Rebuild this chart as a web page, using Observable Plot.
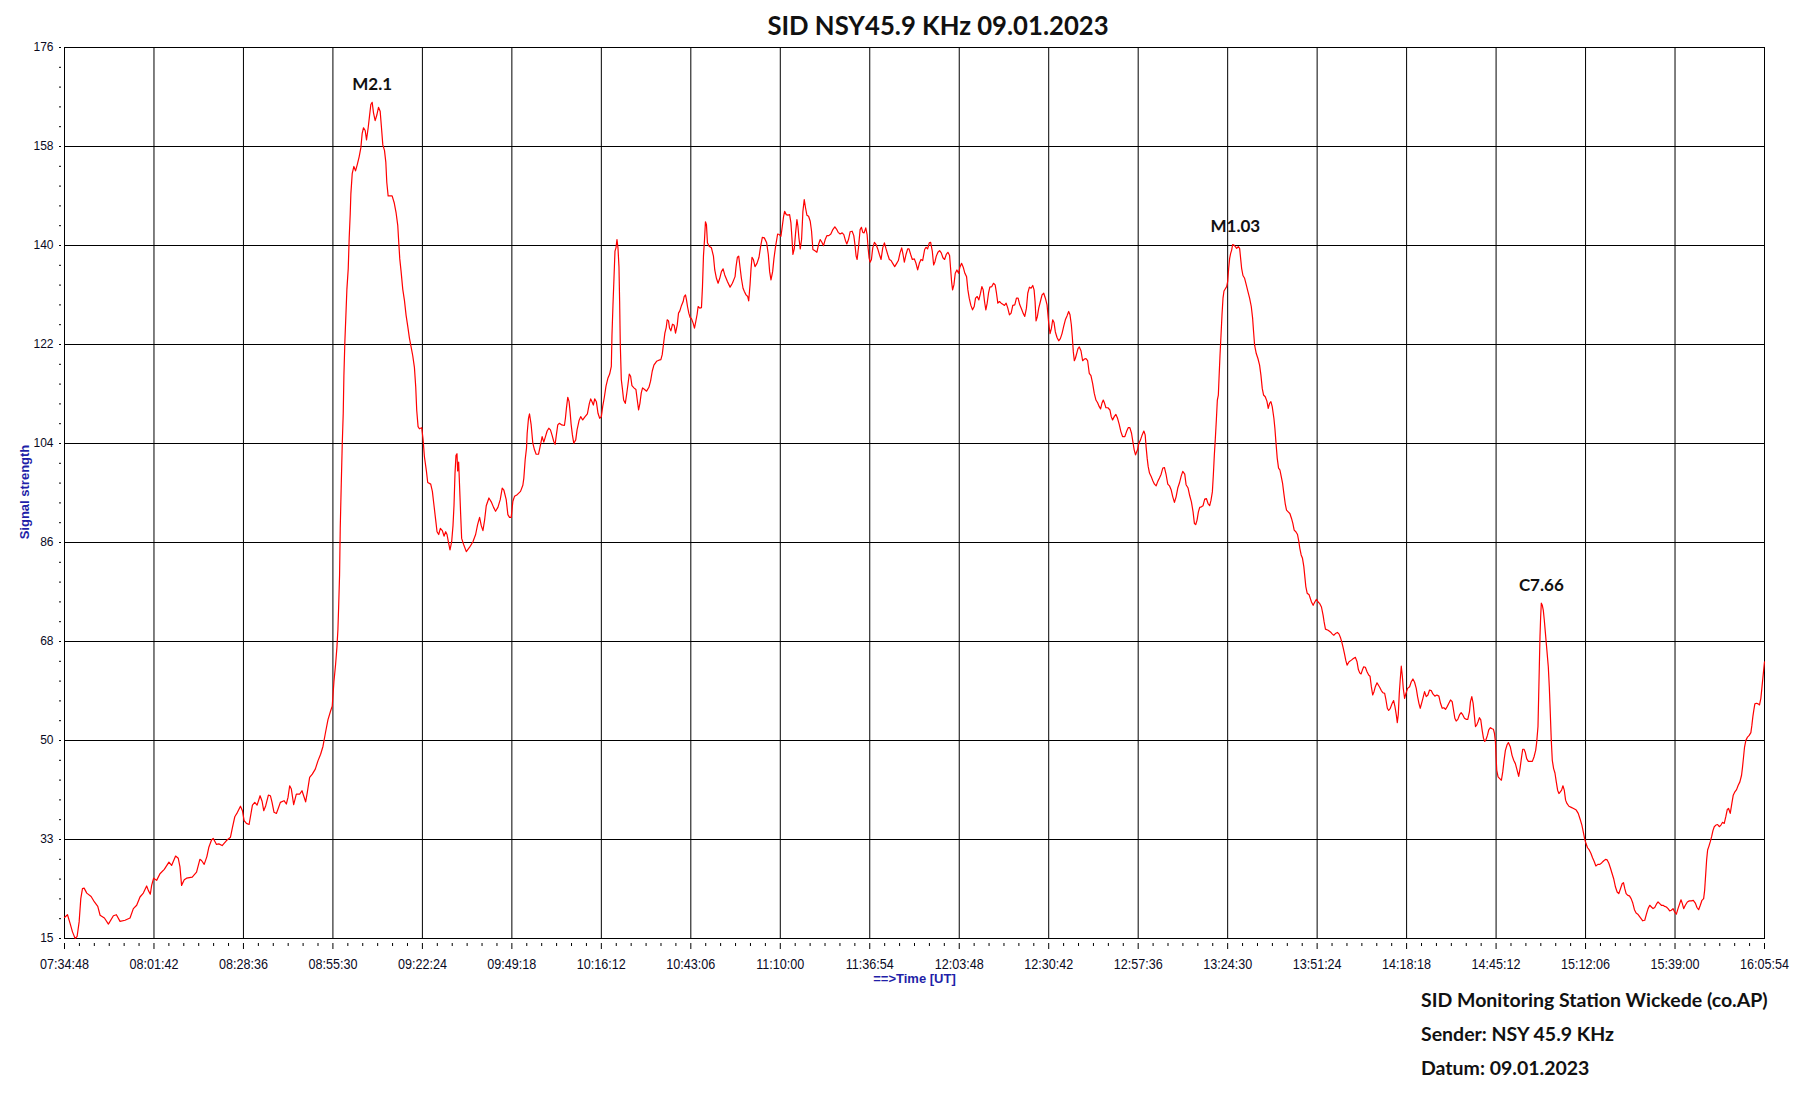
<!DOCTYPE html>
<html>
<head>
<meta charset="utf-8">
<script src="https://cdn.jsdelivr.net/npm/d3@7"></script>
<script src="https://cdn.jsdelivr.net/npm/@observablehq/plot@0.6"></script>
<style>
html, body { margin: 0; padding: 0; background: #ffffff; }
#chart { position: relative; width: 1795px; height: 1100px; overflow: hidden; background: #ffffff; }
</style>
</head>
<body>
<div id="chart"></div>
<script>
// ---------- texts ----------
const titleText = "SID NSY45.9 KHz 09.01.2023";
const yAxisTitle = "Signal strength";
const xAxisTitle = "==>Time [UT]";
const footerLines = [
  "SID Monitoring Station Wickede (co.AP)",
  "Sender: NSY 45.9 KHz",
  "Datum: 09.01.2023"
];

// ---------- axes ----------
const xTickLabels = ["07:34:48","08:01:42","08:28:36","08:55:30","09:22:24","09:49:18","10:16:12",
  "10:43:06","11:10:00","11:36:54","12:03:48","12:30:42","12:57:36","13:24:30","13:51:24",
  "14:18:18","14:45:12","15:12:06","15:39:00","16:05:54"];
const yTickLabels = ["15","33","50","68","86","104","122","140","158","176"];
const yMin = 15, yMax = 176;

// ---------- flare annotations (label, peak time in minutes UT, peak value) ----------
const flareLabels = ["M2.1", "M1.03", "C7.66"];
const flareTimes = [547.3, 806.8, 898.8];
const flareValues = [166.1, 140.4, 75.6];

// ---------- signal readings: [time in minutes of day UT, signal strength] ----------
const signalReadings = [
[454.8,18.8],[455.7,19.3],[456.5,17.7],[457.2,16.2],[458.0,15.0],[458.6,15.4],[459.2,18.0],[459.7,22.2],
[460.2,24.0],[460.7,24.1],[461.5,23.2],[462.8,22.6],[463.8,21.6],[464.8,20.8],[465.5,19.2],[466.8,18.7],
[468.0,17.6],[469.5,19.1],[470.4,19.3],[471.5,18.1],[473.0,18.3],[474.5,18.7],[475.5,20.4],[476.5,21.0],
[477.5,22.5],[478.5,23.2],[479.5,24.5],[480.0,23.7],[480.6,23.0],[481.0,24.6],[481.6,25.9],[482.5,25.5],
[483.5,26.7],[484.8,27.5],[486.2,28.8],[487.0,28.2],[488.2,29.9],[489.0,29.5],[489.5,28.0],[490.0,24.6],
[490.8,25.6],[491.5,25.9],[493.2,26.1],[494.5,27.0],[495.5,29.3],[496.0,29.1],[496.8,28.4],[497.6,29.8],
[498.2,31.5],[499.0,32.8],[499.5,33.1],[500.5,32.0],[501.2,32.1],[502.2,31.8],[503.5,32.7],[504.7,33.3],
[505.3,35.1],[506.0,37.0],[506.8,37.8],[507.7,38.9],[508.3,38.1],[508.8,36.3],[509.5,35.8],[510.3,35.6],
[511.3,39.1],[512.0,39.6],[512.7,39.1],[513.6,40.8],[514.2,39.8],[514.7,38.1],[515.3,39.0],[516.1,40.9],
[516.7,40.8],[517.2,39.6],[517.8,37.8],[518.5,37.6],[519.0,38.4],[519.7,39.6],[520.8,39.9],[521.5,39.3],
[522.0,40.5],[522.5,42.6],[523.0,42.0],[523.7,39.2],[524.5,41.1],[525.5,41.1],[526.2,41.7],[526.7,40.8],
[527.3,39.7],[527.8,41.4],[528.5,44.1],[529.3,44.7],[530.2,45.6],[531.0,47.1],[531.8,48.3],[532.5,49.7],
[533.2,52.0],[534.0,54.5],[534.8,56.1],[535.3,57.0],[535.8,61.4],[536.3,64.5],[536.7,67.6],[537.0,70.8],
[537.2,74.5],[537.5,80.7],[537.7,89.1],[538.0,96.9],[538.3,104.2],[538.6,109.9],[538.8,116.7],[539.1,123.0],
[539.4,127.6],[539.7,132.3],[540.1,136.0],[540.4,141.7],[540.7,145.9],[540.9,149.6],[541.3,153.2],[541.8,154.5],
[542.3,153.7],[542.8,154.8],[543.4,156.3],[543.9,157.9],[544.3,160.5],[544.7,161.5],[545.2,161.0],[545.6,159.3],
[546.1,161.5],[546.5,163.6],[546.9,165.7],[547.3,166.1],[547.7,164.2],[548.2,162.8],[548.7,163.8],[549.2,165.2],
[549.7,164.5],[550.1,161.5],[550.5,158.4],[551.0,157.4],[551.4,155.3],[551.7,151.6],[552.1,149.2],[552.7,149.2],
[553.3,149.2],[553.9,148.0],[554.5,146.1],[555.0,143.8],[555.3,140.7],[555.6,137.8],[556.0,135.5],[556.5,132.3],
[557.0,130.3],[557.5,127.6],[558.0,125.6],[558.5,123.5],[559.0,121.9],[559.5,120.3],[560.0,118.2],[560.4,114.6],
[560.7,110.4],[561.1,107.5],[561.5,107.1],[562.2,107.3],[562.6,105.2],[563.0,102.1],[563.6,99.5],[564.0,97.4],
[564.9,97.1],[565.4,95.8],[565.8,93.7],[566.4,90.6],[566.8,88.5],[567.3,88.0],[567.8,89.1],[568.4,88.7],
[568.9,87.7],[569.4,88.5],[569.8,88.0],[570.3,86.4],[570.7,85.2],[571.2,86.7],[571.6,89.6],[571.9,93.2],
[572.2,99.0],[572.5,102.3],[572.8,102.6],[573.0,99.5],[573.3,101.1],[573.6,96.4],[573.9,91.7],[574.2,87.3],
[574.8,86.2],[575.6,84.9],[576.6,85.7],[577.6,86.7],[578.4,88.0],[579.0,89.8],[579.6,91.1],[580.1,89.6],
[580.6,88.7],[581.1,90.6],[581.6,93.2],[582.4,94.6],[583.1,93.9],[583.8,92.9],[584.4,92.2],[585.1,92.9],
[585.8,94.3],[586.4,96.4],[586.9,96.0],[587.6,94.3],[588.1,91.6],[588.6,91.1],[589.1,91.1],[589.6,94.0],
[590.1,94.9],[590.9,95.2],[591.9,95.8],[592.6,96.9],[592.9,98.2],[593.3,101.5],[593.7,103.6],[593.9,106.3],
[594.3,109.0],[594.6,109.8],[595.1,107.8],[595.6,104.5],[596.1,103.3],[596.6,102.5],[597.3,102.5],[597.9,104.2],
[598.4,105.7],[598.9,104.7],[599.4,105.7],[599.9,106.7],[600.4,107.2],[600.9,106.9],[601.4,105.9],[601.9,104.8],
[602.3,104.3],[602.7,106.1],[603.1,107.8],[603.6,108.1],[604.3,107.8],[605.1,107.7],[605.4,109.0],[605.7,110.8],
[606.1,112.8],[606.5,112.0],[606.8,110.2],[607.1,108.0],[607.5,106.0],[607.9,104.5],[608.5,105.1],[608.9,106.9],
[609.5,108.6],[610.0,109.3],[610.6,108.7],[611.2,109.2],[612.0,109.8],[612.6,111.7],[613.0,112.5],[613.4,112.0],
[613.8,111.4],[614.2,112.5],[614.7,112.0],[615.2,109.9],[615.7,109.0],[616.2,109.3],[616.6,111.1],[617.1,112.8],
[617.6,114.8],[618.2,116.3],[618.7,117.0],[619.2,118.4],[619.4,124.1],[619.7,129.5],[620.0,134.3],[620.3,139.2],
[620.6,139.8],[620.9,141.3],[621.2,139.8],[621.5,136.4],[621.7,130.1],[621.9,122.3],[622.2,116.0],[622.5,114.5],
[622.9,112.3],[623.4,111.7],[623.8,113.3],[624.2,115.1],[624.6,117.0],[625.0,116.6],[625.4,114.9],[626.0,114.5],
[626.6,114.2],[627.0,112.3],[627.4,110.5],[627.8,111.7],[628.2,113.6],[628.6,114.5],[629.2,114.2],[629.8,113.9],
[630.5,114.6],[631.0,115.7],[631.5,117.5],[632.0,118.6],[632.8,119.3],[633.5,119.5],[634.1,119.6],[634.5,120.5],
[634.8,122.0],[635.3,124.4],[635.7,125.4],[636.0,126.8],[636.4,126.6],[636.7,125.3],[637.1,124.8],[637.6,126.0],
[638.1,125.8],[638.5,124.4],[639.0,125.8],[639.4,128.0],[639.8,128.4],[640.3,129.4],[640.8,130.1],[641.1,131.0],
[641.5,131.3],[641.8,130.4],[642.1,129.2],[642.5,128.0],[642.9,127.2],[643.3,127.0],[643.8,126.2],[644.2,125.3],
[644.6,126.5],[645.0,127.8],[645.3,129.2],[645.8,128.9],[646.3,129.0],[646.6,132.7],[646.9,138.3],[647.2,141.1],
[647.5,144.5],[647.8,144.0],[648.1,140.7],[648.6,140.1],[649.3,139.8],[649.9,138.3],[650.3,135.8],[650.8,134.3],
[651.3,133.4],[651.8,134.3],[652.3,135.5],[652.8,136.0],[653.3,134.9],[654.1,133.7],[654.9,132.7],[655.6,133.4],
[656.4,134.6],[656.7,136.4],[657.1,138.1],[657.5,138.3],[657.9,136.3],[658.3,134.3],[658.8,132.5],[659.2,131.9],
[659.7,131.3],[660.2,131.0],[660.5,130.2],[660.9,133.1],[661.2,136.0],[661.5,138.1],[661.9,137.7],[662.4,136.4],
[663.0,137.0],[663.6,138.1],[664.1,140.1],[664.6,141.7],[665.2,141.6],[665.9,140.7],[666.4,138.6],[666.8,135.5],
[667.2,134.0],[667.7,135.5],[668.1,137.9],[668.6,140.1],[669.2,142.3],[669.7,142.2],[670.2,141.9],[670.6,143.7],
[671.0,145.5],[671.3,146.4],[671.8,145.8],[672.3,145.7],[672.8,145.8],[673.2,144.3],[673.5,141.6],[673.8,138.6],
[674.2,139.6],[674.6,142.5],[675.0,144.9],[675.3,143.7],[675.6,141.6],[676.0,139.6],[676.4,141.3],[676.8,146.4],
[677.2,148.5],[677.6,147.0],[678.0,145.7],[678.5,145.5],[679.0,144.6],[679.4,142.8],[679.8,139.5],[680.3,139.3],
[681.0,139.0],[681.5,140.4],[682.0,141.3],[682.5,140.8],[683.0,140.2],[683.5,141.3],[684.0,142.0],[684.6,142.0],
[685.2,142.3],[685.8,143.1],[686.4,143.6],[686.9,143.2],[687.4,142.6],[688.0,142.3],[688.6,142.5],[689.1,142.2],
[689.6,141.1],[690.0,140.5],[690.5,141.3],[691.0,142.7],[691.6,142.8],[692.1,142.0],[692.5,140.1],[692.8,138.3],
[693.1,137.7],[693.5,139.8],[694.0,143.1],[694.4,143.5],[694.8,142.6],[695.2,142.5],[695.7,143.4],[696.1,142.2],
[696.4,139.8],[696.7,138.0],[697.0,137.2],[697.4,137.7],[697.8,139.8],[698.3,140.8],[698.8,140.4],[699.3,139.6],
[699.8,138.6],[700.3,137.7],[700.8,139.8],[701.3,140.7],[701.8,139.6],[702.3,138.6],[702.8,137.7],[703.3,137.5],
[703.8,137.0],[704.4,136.4],[705.0,137.0],[705.5,137.5],[706.0,138.9],[706.5,139.8],[706.9,138.6],[707.3,137.2],
[707.8,138.6],[708.3,139.6],[708.7,139.6],[709.2,138.6],[709.7,137.7],[710.3,137.8],[710.8,137.0],[711.3,135.8],
[711.8,137.0],[712.3,137.7],[712.8,137.5],[713.4,139.5],[713.8,139.9],[714.3,139.6],[714.8,140.7],[715.2,140.8],
[715.7,139.2],[716.1,136.7],[716.5,137.3],[716.9,138.3],[717.4,139.0],[717.9,139.3],[718.4,138.9],[718.9,138.0],
[719.4,137.7],[719.9,138.6],[720.4,139.0],[720.9,138.4],[721.2,136.1],[721.5,133.7],[721.8,132.2],[722.2,133.1],
[722.6,135.2],[723.1,135.8],[723.6,135.2],[724.0,136.3],[724.5,137.0],[725.0,136.3],[725.5,135.2],[726.0,134.6],
[726.4,132.2],[726.8,130.7],[727.3,129.4],[727.8,128.6],[728.3,129.2],[728.7,130.7],[729.2,131.0],[729.7,130.4],
[730.2,131.6],[730.6,132.8],[731.0,132.2],[731.4,130.1],[731.8,128.6],[732.2,129.8],[732.6,131.6],[733.0,132.7],
[733.6,132.8],[734.1,133.4],[734.6,133.1],[735.0,131.6],[735.4,129.8],[735.9,130.1],[736.4,129.8],[736.9,129.6],
[737.4,129.4],[737.9,129.8],[738.4,128.9],[738.9,127.7],[739.4,128.0],[739.9,129.4],[740.5,129.5],[741.0,130.7],
[741.5,130.7],[742.0,129.5],[742.5,128.8],[743.0,128.0],[743.5,127.4],[744.0,128.9],[744.4,131.6],[744.9,132.7],
[745.4,132.5],[745.9,133.0],[746.3,132.2],[746.6,130.1],[746.9,126.6],[747.3,127.4],[747.7,128.9],[748.2,130.1],
[748.7,131.3],[749.2,131.6],[749.7,130.7],[750.2,129.5],[750.7,126.2],[751.1,124.3],[751.5,125.2],[751.9,126.8],
[752.3,126.3],[752.7,124.6],[753.2,123.6],[753.7,123.0],[754.2,123.4],[754.7,124.3],[755.2,125.6],[755.7,126.8],
[756.2,127.5],[756.7,128.3],[757.1,127.7],[757.5,125.9],[757.8,123.7],[758.1,121.0],[758.4,119.4],[758.7,119.8],
[759.1,120.7],[759.5,121.6],[759.9,121.9],[760.4,121.2],[760.9,119.4],[761.4,119.7],[761.9,119.8],[762.4,119.4],
[762.9,117.1],[763.4,116.7],[763.9,115.3],[764.4,113.5],[764.9,112.3],[765.4,111.8],[765.9,111.1],[766.3,110.7],
[766.7,111.7],[767.1,112.3],[767.5,111.7],[767.9,110.9],[768.5,110.9],[769.1,110.5],[769.5,109.3],[769.9,108.7],
[770.4,109.3],[770.9,109.7],[771.4,109.0],[771.9,107.9],[772.4,106.6],[772.9,105.7],[773.6,105.7],[774.1,106.6],
[774.6,107.3],[775.1,107.3],[775.6,106.3],[776.0,104.8],[776.4,103.3],[776.8,102.4],[777.4,103.3],[777.8,104.5],
[778.3,105.1],[778.8,106.0],[779.3,106.7],[779.7,106.0],[780.0,103.7],[780.3,101.8],[780.6,100.3],[781.0,99.1],
[781.5,98.5],[782.0,97.7],[782.5,97.1],[783.0,96.8],[783.5,97.6],[784.0,98.2],[784.5,98.9],[785.0,100.0],
[785.5,100.1],[786.0,98.8],[786.5,97.1],[787.0,96.8],[787.5,96.1],[788.0,94.8],[788.5,93.8],[789.0,94.8],
[789.5,96.4],[790.0,97.3],[790.5,98.5],[791.0,99.4],[791.6,98.9],[792.0,97.0],[792.6,96.4],[793.1,95.0],
[793.6,93.9],[794.1,92.1],[794.5,90.0],[794.9,89.8],[795.3,90.6],[795.7,92.1],[796.1,92.9],[796.6,93.0],
[797.1,93.2],[797.6,94.4],[798.1,94.5],[798.6,93.6],[799.1,93.2],[799.5,94.2],[799.9,95.7],[800.2,98.8],
[800.5,102.4],[800.8,105.4],[801.1,108.7],[801.4,112.3],[801.7,113.2],[801.9,116.2],[802.2,120.4],[802.5,124.0],
[802.8,127.7],[803.1,130.7],[803.4,132.0],[803.8,132.4],[804.2,132.8],[804.5,133.7],[804.8,136.1],[805.1,137.9],
[805.4,138.8],[805.7,139.4],[806.0,140.4],[806.4,140.3],[806.8,140.0],[807.2,139.7],[807.7,140.0],[808.1,139.7],
[808.4,137.9],[808.7,136.1],[809.1,134.8],[809.6,134.3],[810.1,133.1],[810.6,131.9],[811.1,130.7],[811.6,129.2],
[812.0,127.1],[812.3,124.6],[812.6,122.2],[813.1,120.7],[813.6,119.8],[814.1,118.6],[814.5,116.8],[814.9,114.4],
[815.3,113.2],[815.8,112.9],[816.3,112.1],[816.7,110.8],[817.1,111.7],[817.5,112.0],[817.9,111.1],[818.4,109.0],
[818.7,107.2],[819.0,104.8],[819.4,101.8],[819.8,100.0],[820.2,99.7],[820.6,98.5],[821.0,97.3],[821.4,95.4],
[821.8,93.6],[822.2,92.4],[822.7,92.1],[823.2,91.8],[823.7,90.9],[824.1,90.0],[824.5,88.8],[825.0,88.5],
[825.5,88.0],[825.9,86.7],[826.2,85.5],[826.6,84.3],[827.0,83.7],[827.4,82.2],[827.7,80.4],[828.0,78.6],
[828.4,77.4],[829.0,77.1],[829.7,75.8],[830.2,75.2],[830.7,75.8],[831.2,76.3],[831.7,75.8],[832.2,75.5],
[832.7,74.9],[833.2,73.4],[833.5,72.2],[833.9,70.9],[834.7,70.7],[835.4,70.4],[836.0,70.0],[836.4,69.8],
[836.9,70.1],[837.5,70.3],[838.0,70.0],[838.4,69.4],[838.8,68.6],[839.2,67.6],[839.6,66.5],[840.0,65.3],
[840.4,64.4],[841.0,65.0],[841.7,65.3],[842.3,65.6],[842.9,65.8],[843.4,65.0],[843.8,63.6],[844.2,63.0],
[844.6,62.8],[845.0,63.5],[845.4,64.1],[845.9,64.0],[846.4,63.2],[846.9,62.6],[847.3,62.4],[847.7,60.5],
[848.1,59.0],[848.5,59.6],[848.9,60.5],[849.4,61.2],[849.8,60.8],[850.2,60.4],[850.7,59.8],[851.2,59.4],
[851.7,59.3],[852.1,58.1],[852.5,56.6],[852.9,56.2],[853.4,56.6],[853.9,57.4],[854.4,58.0],[854.8,56.9],
[855.2,55.4],[855.5,54.0],[855.8,55.5],[856.1,59.3],[856.4,61.9],[856.7,64.2],[857.0,62.5],[857.3,60.2],
[857.7,58.4],[858.1,59.3],[858.6,60.2],[859.2,60.5],[859.7,61.4],[860.2,61.9],[860.7,61.3],[861.2,60.2],
[861.6,58.7],[862.0,57.5],[862.4,56.6],[862.8,57.5],[863.2,58.4],[863.7,59.6],[864.2,58.7],[864.7,59.0],
[865.2,59.9],[865.7,59.8],[866.2,59.2],[866.8,58.8],[867.4,59.0],[868.0,58.8],[868.5,57.5],[869.0,56.6],
[869.5,56.7],[870.0,56.4],[870.5,56.9],[871.0,57.5],[871.5,58.1],[872.0,57.8],[872.4,56.3],[872.8,54.8],
[873.2,54.3],[873.7,54.6],[874.2,55.4],[874.7,55.8],[875.2,55.4],[875.7,54.8],[876.2,54.6],[876.7,54.6],
[877.2,56.0],[877.5,57.8],[877.9,58.7],[878.3,57.5],[878.7,55.1],[879.0,53.3],[879.4,53.6],[879.8,54.2],
[880.2,54.9],[880.6,54.5],[881.0,52.7],[881.4,51.2],[881.8,50.6],[882.2,51.0],[882.6,51.7],[883.0,52.7],
[883.5,53.1],[884.0,52.9],[884.4,52.8],[884.7,52.1],[885.0,50.6],[885.2,47.8],[885.4,45.4],[885.8,44.2],
[886.3,43.9],[886.8,43.6],[887.2,45.1],[887.6,47.2],[888.0,49.0],[888.5,50.0],[888.9,50.4],[889.5,49.6],
[890.0,48.1],[890.5,47.2],[891.0,46.6],[891.4,45.7],[892.0,44.3],[892.4,45.7],[892.8,47.5],[893.2,49.2],
[893.6,49.2],[894.0,48.6],[894.4,47.5],[894.9,47.0],[895.5,47.0],[896.1,47.0],[896.6,47.8],[897.1,49.0],
[897.4,50.4],[897.8,53.3],[898.0,58.7],[898.2,64.1],[898.4,69.5],[898.6,73.1],[898.8,75.6],[899.1,75.2],
[899.4,74.3],[899.7,72.5],[900.0,70.4],[900.3,68.3],[900.6,66.2],[900.9,64.1],[901.2,60.5],[901.5,55.7],
[901.8,50.8],[902.1,47.2],[902.5,45.7],[902.9,44.9],[903.3,43.3],[903.7,41.8],[904.1,41.2],[904.5,41.5],
[904.9,41.8],[905.3,42.6],[905.7,41.8],[906.1,40.0],[906.5,39.4],[907.1,38.9],[907.8,38.7],[908.5,38.5],
[909.3,38.2],[909.9,37.6],[910.5,36.5],[911.0,35.5],[911.4,34.3],[911.8,33.1],[912.2,32.2],[912.7,31.4],
[913.2,31.0],[913.7,30.4],[914.2,29.6],[914.7,28.9],[915.2,28.1],[915.8,28.4],[916.4,28.4],[917.0,28.7],
[917.5,29.0],[918.1,29.3],[918.6,29.2],[919.1,28.6],[919.6,27.7],[920.1,26.7],[920.6,25.7],[921.1,24.3],
[921.6,23.4],[922.1,23.1],[922.6,24.0],[923.1,24.9],[923.5,25.1],[923.9,24.0],[924.3,23.1],[924.8,22.8],
[925.3,22.7],[925.8,22.2],[926.3,21.4],[926.8,20.2],[927.3,19.6],[927.8,19.4],[928.3,19.0],[928.8,18.6],
[929.3,18.2],[929.9,18.3],[930.4,19.4],[930.9,20.4],[931.4,21.0],[931.9,20.7],[932.4,20.4],[932.9,20.6],
[933.4,21.2],[933.9,21.6],[934.4,21.3],[934.9,21.0],[935.4,21.0],[935.9,20.8],[936.4,20.7],[936.9,20.4],
[937.4,20.0],[937.9,20.1],[938.4,20.4],[938.9,19.8],[939.4,19.4],[939.9,20.4],[940.4,21.3],[940.8,22.0],
[941.2,21.3],[941.6,20.4],[942.1,21.0],[942.7,21.6],[943.3,21.8],[943.9,21.8],[944.5,21.9],[945.1,21.4],
[945.6,20.6],[946.1,20.2],[946.6,21.0],[947.1,21.9],[947.6,22.2],[947.9,23.7],[948.2,26.4],[948.5,29.2],
[948.8,31.0],[949.2,31.7],[949.6,32.5],[950.0,33.4],[950.4,34.5],[950.8,35.2],[951.3,35.5],[951.8,35.6],
[952.3,35.2],[952.8,35.5],[953.3,36.0],[953.8,35.8],[954.3,37.1],[954.7,38.3],[955.1,38.5],[955.6,37.6],
[956.0,39.1],[956.5,40.9],[957.0,41.5],[957.5,41.9],[958.0,42.7],[958.5,43.3],[959.0,44.5],[959.3,46.0],
[959.6,47.8],[959.9,49.6],[960.3,50.8],[960.8,51.4],[961.3,51.7],[961.8,52.2],[962.1,53.5],[962.4,55.1],
[962.7,56.3],[963.0,57.4],[963.5,57.5],[964.0,57.4],[964.4,57.2],[964.8,58.4],[965.1,60.2],[965.4,62.0],
[965.7,63.8],[965.9,65.0]
];

// ---------- derived structures for the library ----------
const toMinutes = s => { const [h, m, sec] = s.split(":").map(Number); return h * 60 + m + sec / 60; };
const xMajor = xTickLabels.map(toMinutes);
const xLabelOf = new Map(xMajor.map((v, i) => [v, xTickLabels[i]]));
const yStep = (yMax - yMin) / (yTickLabels.length - 1);
const yMajor = yTickLabels.map((_, k) => yMin + k * yStep);
const yLabelOf = new Map(yMajor.map((v, i) => [v, yTickLabels[i]]));
const xMinor = [];
for (let i = 0; i < xMajor.length - 1; i++) for (let j = 1; j < 6; j++) xMinor.push(xMajor[i] + j * (xMajor[i + 1] - xMajor[i]) / 6);
const yMinor = [];
for (let i = 0; i < yMajor.length - 1; i++) for (let j = 1; j < 5; j++) yMinor.push(yMajor[i] + j * yStep / 5);

const series = signalReadings.map(([t, v]) => ({t, v}));
const flares = flareLabels.map((label, i) => ({label, t: flareTimes[i], v: flareValues[i]}));

const W = 1795, H = 1100;
const sansFont = "'Liberation Sans', Arial, sans-serif";
const boldFont = "Lato, 'Open Sans', sans-serif";

const chart = Plot.plot({
  width: W,
  height: H,
  marginLeft: 64,
  marginRight: 31,
  marginTop: 47,
  marginBottom: 162,
  style: {background: "#ffffff", color: "#000000", fontFamily: sansFont},
  x: {type: "linear", domain: [xMajor[0], xMajor[xMajor.length - 1]], label: null},
  y: {type: "linear", domain: [yMin, yMax], label: null},
  marks: [
    Plot.ruleX(xMajor, {stroke: "#000000", strokeWidth: 1}),
    Plot.ruleY(yMajor, {stroke: "#000000", strokeWidth: 1}),
    Plot.frame({stroke: "#000000", strokeWidth: 1}),
    Plot.line(series, {x: "t", y: "v", stroke: "#ff0000", strokeWidth: 1.2}),
    Plot.axisX(xMajor, {anchor: "bottom", tickSize: 6, dy: 5, tickPadding: 9, label: null,
      tickFormat: d => xLabelOf.get(d), fontSize: 12.6, fontFamily: sansFont, fill: "#0a0a1e", stroke: "#000000"}),
    Plot.axisX(xMinor, {anchor: "bottom", tickSize: 3, dy: 5, label: null, fill: "none", stroke: "#000000"}),
    Plot.axisY(yMajor, {anchor: "left", tickSize: 2, dx: -3, tickPadding: 6, label: null,
      tickFormat: d => yLabelOf.get(d), fontSize: 12, fontFamily: sansFont, fill: "#0a0a1e", stroke: "#000000"}),
    Plot.axisY(yMinor, {anchor: "left", tickSize: 2, dx: -3, label: null, fill: "none", stroke: "#000000"}),
    Plot.text(flares, {x: "t", y: "v", text: "label", dy: -18, fontSize: 17, fontWeight: "bold",
      fontFamily: boldFont, fill: "#111111", textAnchor: "middle"})
  ]
});

const svg = d3.select(chart);
// the time labels of the reference are tall and narrow: stretch them vertically
svg.selectAll('[aria-label="x-axis tick label"] text').each(function () {
  const t = this.getAttribute("transform");
  if (t) this.setAttribute("transform", t + " scale(1,1.18)");
});
svg.append("text")
  .attr("x", 938).attr("y", 35)
  .attr("text-anchor", "middle")
  .attr("font-family", boldFont).attr("font-weight", 700).attr("font-size", 25.7)
  .attr("fill", "#111111")
  .text(titleText);
svg.append("text")
  .attr("transform", "translate(29,492) rotate(-90)")
  .attr("text-anchor", "middle")
  .attr("font-family", sansFont).attr("font-weight", 700).attr("font-size", 13)
  .attr("fill", "#1f1fa8")
  .text(yAxisTitle);
svg.append("text")
  .attr("x", 914.5).attr("y", 983)
  .attr("text-anchor", "middle")
  .attr("font-family", sansFont).attr("font-weight", 700).attr("font-size", 13)
  .attr("fill", "#1f1fa8")
  .text(xAxisTitle);
footerLines.forEach((line, i) => {
  svg.append("text")
    .attr("x", 1421).attr("y", 1007 + i * 34)
    .attr("text-anchor", "start")
    .attr("font-family", boldFont).attr("font-weight", 700).attr("font-size", 19.5)
    .attr("fill", "#111111")
    .text(line);
});

document.getElementById("chart").appendChild(chart);
</script>
</body>
</html>
